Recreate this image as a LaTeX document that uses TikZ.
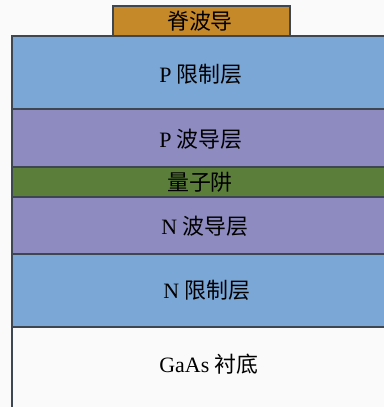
\documentclass[tikz,border=0pt]{standalone}
\usepackage{fontspec}
\setmainfont{Liberation Serif}
\newfontfamily\cjk{Noto Sans CJK SC}
\definecolor{bgc}{HTML}{FAFAFA}
\definecolor{cladc}{HTML}{7BA7D7}
\definecolor{wgc}{HTML}{8E8BC0}
\definecolor{qwc}{HTML}{5B7F3A}
\definecolor{ridgec}{HTML}{C6892A}
\definecolor{linec}{HTML}{3E4652}
\newcommand\zh[1]{{\cjk #1}}
\begin{document}
\begin{tikzpicture}[x=1bp,y=-1bp,
  layer/.style={draw=linec, line width=1.3bp, anchor=north west, inner sep=0pt, outer sep=0pt, minimum width=390bp},
  lbl/.style={font=\fontsize{22}{26}\selectfont, text=black, inner sep=0pt}]
\fill[bgc] (0,0) rectangle (384,407);
\useasboundingbox (0,0) rectangle (384,407);
\clip (0,0) rectangle (384,407);
\node[layer, fill=bgc, minimum height=100bp] (sub) at (12,327) {};
\node[layer, fill=cladc, minimum height=73bp] (nclad) at (12,254) {};
\node[layer, fill=wgc, minimum height=57bp] (nwg) at (12,197) {};
\node[layer, fill=qwc, minimum height=30bp] (qw) at (12,167) {};
\node[layer, fill=wgc, minimum height=58bp] (pwg) at (12,109) {};
\node[layer, fill=cladc, minimum height=73bp] (pclad) at (12,36) {};
\node[layer, fill=ridgec, minimum width=177bp, minimum height=30bp] (ridge) at (113,6) {};
\node[lbl] (tridge) at (200,21) {\zh{脊波导}};
\node[lbl] (tpclad) at (201,74) {P \zh{限制层}};
\node[lbl] (tpwg) at (201,139) {P \zh{波导层}};
\node[lbl] (tqw) at (200,182) {\zh{量子阱}};
\node[lbl] (tnwg) at (205,226) {N \zh{波导层}};
\node[lbl] (tnclad) at (207,290) {N \zh{限制层}};
\node[lbl] (tsub) at (209,364) {GaAs \zh{衬底}};
\end{tikzpicture}
\end{document}
